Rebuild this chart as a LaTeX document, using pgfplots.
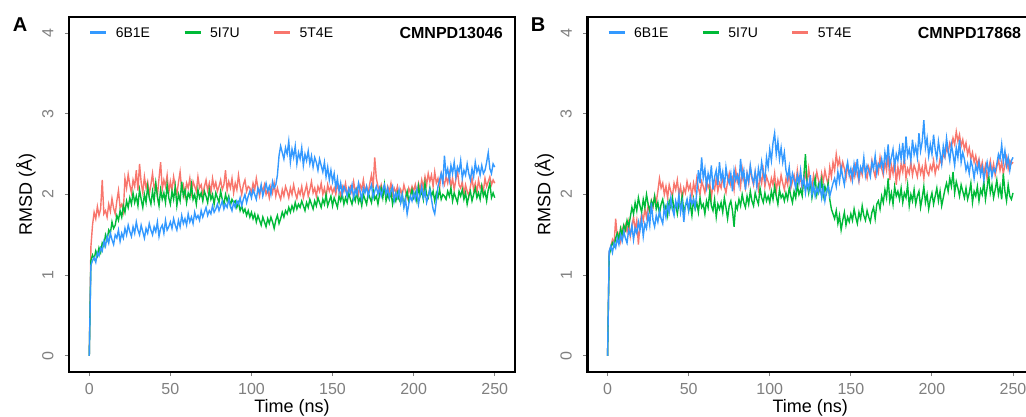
\documentclass[border=0pt]{standalone}
\usepackage{pgfplots}
\pgfplotsset{compat=1.18}
\usepackage{pgfplotstable}
\usepackage{fontspec}
\setmainfont{Liberation Sans}
\definecolor{cblue}{HTML}{3399FF}
\definecolor{cgreen}{HTML}{00BA38}
\definecolor{cred}{HTML}{F8766D}
\definecolor{tgray}{HTML}{7F7F7F}

\pgfplotstableread{
t b g r
0 0 0 0
1 1.12 1.18 1.35
2 1.18 1.25 1.62
3 1.22 1.20 1.78
4 1.16 1.30 1.70
5 1.28 1.24 1.85
6 1.24 1.34 1.74
7 1.34 1.28 1.82
8 1.30 1.40 2.18
9 1.42 1.36 1.76
10 1.36 1.50 1.80
11 1.48 1.44 1.72
12 1.40 1.56 1.88
13 1.52 1.52 1.79
14 1.44 1.66 1.95
15 1.38 1.58 1.83
16 1.50 1.62 1.76
17 1.46 1.74 1.92
18 1.56 1.68 2.05
19 1.42 1.80 1.84
20 1.52 1.72 1.88
21 1.46 1.86 1.79
22 1.58 1.78 2.20
23 1.50 1.92 2.08
24 1.62 1.84 2.25
25 1.54 1.96 2.12
26 1.48 1.88 2.02
27 1.60 2.02 2.18
28 1.52 1.90 2.10
29 1.66 1.98 2.30
30 1.56 1.86 2.05
31 1.50 2.06 2.38
32 1.62 1.94 2.15
33 1.54 1.84 2.02
34 1.46 2.00 2.22
35 1.58 1.90 2.08
36 1.52 2.10 2.16
37 1.64 1.96 2.00
38 1.56 1.88 2.12
39 1.50 2.04 2.26
40 1.60 1.92 2.08
41 1.54 2.14 2.14
42 1.66 1.98 1.98
43 1.48 1.86 2.20
44 1.58 2.06 2.40
45 1.62 1.94 2.06
46 1.52 2.02 2.18
47 1.68 1.90 2.10
48 1.56 2.12 2.24
49 1.60 1.96 2.02
50 1.66 1.88 2.16
51 1.58 2.04 2.05
52 1.70 1.94 2.22
53 1.62 2.10 2.10
54 1.56 1.86 2.00
55 1.68 2.00 2.15
56 1.60 1.92 2.28
57 1.74 2.16 2.06
58 1.64 1.98 2.12
59 1.70 2.06 1.98
60 1.62 1.90 2.14
61 1.76 2.02 2.08
62 1.66 1.96 2.20
63 1.72 2.12 2.02
64 1.64 1.94 2.16
65 1.78 2.00 2.10
66 1.70 1.88 2.04
67 1.74 2.06 2.22
68 1.68 1.96 2.08
69 1.80 2.02 2.12
70 1.72 1.92 2.00
71 1.78 2.04 2.10
72 1.84 1.98 2.18
73 1.74 1.90 2.05
74 1.80 2.06 2.14
75 1.76 1.94 2.02
76 1.86 2.00 2.20
77 1.78 1.88 2.08
78 1.82 2.02 2.15
79 1.88 1.96 2.04
80 1.80 1.90 2.10
81 1.86 2.04 2.18
82 1.92 1.94 2.06
83 1.82 1.88 2.12
84 1.88 2.00 2.30
85 1.84 1.92 2.05
86 1.94 1.98 2.16
87 1.86 1.86 2.08
88 1.80 1.94 2.20
89 1.90 1.90 2.02
90 1.84 1.92 2.14
91 1.92 1.84 2.06
92 1.88 1.90 2.24
93 1.96 1.80 2.10
94 1.86 1.86 2.00
95 1.94 1.78 2.12
96 2.00 1.82 2.18
97 1.90 1.74 2.04
98 1.98 1.80 2.10
99 2.04 1.72 2.08
100 1.96 1.78 2.02
101 2.06 1.70 2.14
102 2.00 1.76 2.06
103 1.94 1.66 2.20
104 2.08 1.74 2.08
105 2.02 1.68 1.98
106 2.12 1.62 2.10
107 1.98 1.72 2.04
108 2.06 1.66 2.12
109 2.14 1.60 2.00
110 2.04 1.70 2.06
111 2.10 1.64 1.96
112 2.00 1.72 2.10
113 2.16 1.66 2.02
114 2.08 1.58 2.14
115 2.12 1.68 1.98
116 2.24 1.74 2.08
117 2.48 1.64 2.00
118 2.60 1.70 1.94
119 2.52 1.78 2.06
120 2.44 1.72 1.98
121 2.58 1.80 2.10
122 2.50 1.76 2.04
123 2.66 1.84 1.96
124 2.40 1.78 2.08
125 2.56 1.86 2.00
126 2.46 1.80 2.12
127 2.60 1.90 2.02
128 2.38 1.82 1.95
129 2.52 1.88 2.06
130 2.44 1.84 2.00
131 2.58 1.92 2.10
132 2.36 1.86 1.96
133 2.50 1.80 2.04
134 2.42 1.90 2.12
135 2.54 1.84 1.98
136 2.38 1.94 2.06
137 2.48 1.88 2.16
138 2.34 1.82 2.02
139 2.46 1.92 2.08
140 2.40 1.86 1.98
141 2.30 1.96 2.10
142 2.44 1.90 2.04
143 2.36 1.84 2.14
144 2.28 1.94 2.00
145 2.40 1.88 2.08
146 2.22 2.00 1.96
147 2.34 1.86 2.12
148 2.18 1.92 2.04
149 2.30 1.98 2.10
150 2.16 1.86 2.02
151 2.26 1.96 2.08
152 2.08 1.90 2.00
153 2.20 1.84 2.12
154 2.04 1.98 2.06
155 2.14 1.92 1.98
156 2.00 2.00 2.10
157 2.10 1.88 2.04
158 2.06 1.96 2.14
159 1.98 1.90 2.00
160 2.08 2.02 2.06
161 2.02 1.94 2.10
162 2.12 1.88 2.02
163 1.96 1.98 2.16
164 2.06 1.92 2.04
165 2.00 2.04 2.08
166 2.14 1.90 2.00
167 2.04 1.96 2.12
168 1.94 1.86 2.06
169 2.08 2.00 2.18
170 2.02 1.94 2.04
171 2.10 1.88 2.10
172 1.98 2.02 2.02
173 2.06 1.96 2.14
174 2.12 1.90 2.24
175 1.96 2.06 2.08
176 2.04 1.94 2.46
177 2.10 1.98 2.20
178 2.00 1.88 2.10
179 2.08 2.00 2.04
180 1.98 2.08 2.12
181 2.06 1.96 2.02
182 2.12 2.12 2.08
183 2.00 1.92 1.98
184 2.08 2.00 2.10
185 1.96 1.94 2.04
186 2.04 2.04 2.14
187 2.10 1.88 2.00
188 1.92 1.98 2.08
189 2.02 1.92 2.02
190 1.96 2.02 2.10
191 2.06 1.94 1.98
192 1.90 1.90 2.06
193 2.00 2.00 2.00
194 1.84 1.86 2.12
195 1.94 1.96 2.04
196 1.76 2.04 1.96
197 1.88 1.92 2.08
198 1.98 1.98 2.02
199 1.92 2.06 2.10
200 2.02 1.96 2.04
201 1.94 2.02 2.12
202 2.06 1.92 2.00
203 1.88 2.10 2.14
204 2.00 1.98 2.06
205 2.10 2.04 2.18
206 1.96 1.94 2.08
207 2.04 2.14 2.22
208 1.90 2.00 2.12
209 1.98 1.96 2.26
210 2.06 2.08 2.16
211 1.94 1.98 2.24
212 1.82 2.04 2.10
213 1.76 1.92 2.28
214 1.92 2.02 2.14
215 2.10 1.96 2.20
216 2.18 2.06 2.08
217 2.26 1.94 2.26
218 2.14 2.00 2.18
219 2.48 1.98 2.12
220 2.24 1.94 2.22
221 2.32 2.04 2.14
222 2.18 1.98 2.26
223 2.36 2.08 2.10
224 2.26 1.92 2.20
225 2.40 2.02 2.06
226 2.22 1.96 2.18
227 2.34 1.90 2.30
228 2.28 2.04 2.12
229 2.42 1.98 2.08
230 2.20 2.06 2.16
231 2.30 1.94 2.00
232 2.24 2.02 2.12
233 2.38 1.88 2.04
234 2.26 1.98 1.98
235 2.18 2.04 2.10
236 2.32 1.92 2.20
237 2.22 2.00 2.06
238 2.40 2.08 2.14
239 2.28 1.96 2.02
240 2.34 2.02 2.18
241 2.24 1.94 2.08
242 2.36 2.10 2.12
243 2.26 1.98 2.04
244 2.30 2.04 2.20
245 2.40 1.92 2.10
246 2.52 2.06 2.16
247 2.32 2.14 2.22
248 2.26 1.96 2.12
249 2.38 2.02 2.18
250 2.34 1.96 2.14
}\dataA

\pgfplotstableread{
t b g r
0 0 0 0
1 1.30 1.24 1.28
2 1.36 1.34 1.36
3 1.28 1.40 1.44
4 1.40 1.36 1.38
5 1.34 1.46 1.70
6 1.46 1.52 1.46
7 1.38 1.44 1.52
8 1.50 1.58 1.42
9 1.42 1.50 1.58
10 1.54 1.62 1.50
11 1.46 1.56 1.62
12 1.40 1.68 1.54
13 1.56 1.60 1.66
14 1.50 1.72 1.48
15 1.62 1.84 1.60
16 1.44 1.76 1.72
17 1.58 1.90 1.56
18 1.52 1.80 1.68
19 1.66 1.96 1.38
20 1.56 1.86 1.64
21 1.70 1.78 1.76
22 1.48 1.94 1.68
23 1.64 1.84 1.82
24 1.58 2.00 1.72
25 1.76 1.88 1.86
26 1.62 1.80 1.78
27 1.90 1.92 1.92
28 1.68 1.86 1.84
29 1.60 1.98 1.98
30 1.74 1.82 1.90
31 1.66 1.90 2.04
32 1.80 1.76 2.20
33 1.70 1.88 2.08
34 1.64 1.94 2.14
35 1.84 1.80 2.00
36 1.72 1.86 2.10
37 1.88 1.74 1.96
38 1.78 1.92 2.12
39 1.96 1.84 2.04
40 1.82 1.96 1.98
41 1.74 1.82 2.14
42 1.92 1.88 2.06
43 1.84 1.76 2.18
44 2.00 1.90 2.00
45 1.78 1.84 2.10
46 1.90 1.98 1.94
47 1.66 1.78 2.08
48 1.86 1.86 2.02
49 1.94 1.92 2.16
50 1.80 1.80 2.06
51 1.98 1.88 2.12
52 1.88 1.74 1.98
53 1.94 1.94 2.14
54 1.84 1.82 2.04
55 2.02 1.90 2.20
56 2.30 1.78 2.08
57 2.14 1.96 2.00
58 2.46 1.84 2.16
59 2.20 1.88 2.10
60 2.32 1.76 2.02
61 2.10 1.92 2.18
62 2.26 1.84 2.08
63 2.16 2.04 2.14
64 2.36 1.86 1.96
65 2.06 1.80 2.12
66 2.22 1.94 2.06
67 2.30 1.72 2.20
68 2.12 1.88 2.04
69 2.40 1.82 2.14
70 2.18 1.90 2.08
71 2.28 1.78 2.22
72 2.08 1.96 2.10
73 2.34 1.84 2.02
74 2.20 1.70 2.16
75 2.14 1.86 2.26
76 2.26 1.92 2.12
77 2.04 1.80 2.20
78 2.30 1.60 2.06
79 2.18 1.88 2.30
80 2.24 1.82 2.16
81 2.12 1.94 2.24
82 2.44 1.86 2.10
83 2.20 2.00 2.32
84 2.30 1.90 2.18
85 2.06 1.84 2.08
86 2.26 1.98 2.26
87 2.16 1.88 2.14
88 2.36 2.04 2.34
89 2.22 1.92 2.20
90 2.14 1.86 2.12
91 2.28 2.02 2.28
92 2.10 1.94 2.18
93 2.32 1.88 2.06
94 2.20 2.08 2.24
95 2.40 1.96 2.14
96 2.26 1.90 2.30
97 2.18 2.02 2.10
98 2.46 1.92 2.22
99 2.34 1.98 2.16
100 2.56 1.90 2.08
101 2.42 2.04 2.20
102 2.64 1.94 2.12
103 2.76 2.10 2.26
104 2.50 1.98 2.04
105 2.66 1.88 2.18
106 2.44 2.06 2.10
107 2.58 1.96 2.24
108 2.40 2.00 2.14
109 2.52 1.92 2.06
110 2.30 2.02 2.20
111 2.20 1.94 2.12
112 2.34 2.08 2.28
113 2.12 1.98 2.08
114 2.26 1.90 2.16
115 2.18 2.04 2.24
116 2.08 1.96 2.10
117 2.24 2.12 2.30
118 2.14 2.00 2.14
119 2.30 2.06 2.22
120 2.10 1.98 2.06
121 2.20 2.22 2.18
122 2.02 2.50 2.26
123 2.16 2.14 2.12
124 2.06 2.02 2.32
125 2.24 2.16 2.16
126 2.00 1.96 2.08
127 2.12 2.08 2.24
128 1.98 2.20 2.14
129 2.08 2.00 2.28
130 2.02 2.12 2.18
131 2.14 2.04 2.10
132 1.96 2.18 2.26
133 2.08 1.98 2.16
134 1.92 2.10 2.30
135 2.04 2.02 2.20
136 2.10 2.14 2.12
137 1.98 1.94 2.34
138 2.06 1.82 2.22
139 2.14 1.76 2.40
140 2.20 1.70 2.30
141 2.10 1.80 2.50
142 2.28 1.64 2.36
143 2.16 1.74 2.44
144 2.34 1.56 2.28
145 2.22 1.68 2.40
146 2.12 1.78 2.32
147 2.30 1.62 2.20
148 2.40 1.72 2.36
149 2.24 1.66 2.26
150 2.32 1.76 2.18
151 2.18 1.68 2.30
152 2.38 1.82 2.22
153 2.26 1.72 2.36
154 2.44 1.64 2.26
155 2.20 1.78 2.16
156 2.34 1.70 2.32
157 2.28 1.86 2.24
158 2.46 1.74 2.40
159 2.24 1.68 2.28
160 2.36 1.80 2.20
161 2.30 1.72 2.34
162 2.22 1.66 2.26
163 2.40 1.78 2.42
164 2.32 1.84 2.30
165 2.48 1.70 2.22
166 2.26 1.88 2.38
167 2.38 1.92 2.28
168 2.34 1.82 2.46
169 2.44 1.98 2.32
170 2.30 1.90 2.24
171 2.52 2.06 2.40
172 2.40 1.96 2.30
173 2.62 2.20 2.50
174 2.36 1.92 2.18
175 2.46 2.02 2.36
176 2.56 1.88 2.26
177 2.34 2.10 2.44
178 2.50 1.98 2.12
179 2.42 2.04 2.34
180 2.58 1.94 2.22
181 2.44 2.08 2.38
182 2.64 1.90 2.28
183 2.38 2.02 2.46
184 2.72 1.96 2.20
185 2.48 2.12 2.32
186 2.56 1.86 2.26
187 2.42 2.00 2.40
188 2.68 1.92 2.24
189 2.50 2.06 2.36
190 2.60 1.88 2.30
191 2.46 1.98 2.22
192 2.76 2.04 2.38
193 2.54 1.84 2.26
194 2.66 1.96 2.34
195 2.92 2.10 2.20
196 2.58 1.90 2.40
197 2.70 2.00 2.28
198 2.48 1.82 2.24
199 2.62 1.94 2.36
200 2.50 2.02 2.30
201 2.74 1.88 2.42
202 2.56 1.98 2.26
203 2.44 2.08 2.36
204 2.66 1.92 2.32
205 2.52 2.04 2.44
206 2.38 1.86 2.38
207 2.60 1.96 2.50
208 2.48 2.06 2.46
209 2.70 2.14 2.58
210 2.54 2.04 2.52
211 2.42 2.20 2.64
212 2.62 2.10 2.58
213 2.50 2.28 2.70
214 2.36 2.02 2.62
215 2.58 2.16 2.78
216 2.46 2.08 2.66
217 2.68 1.98 2.74
218 2.40 2.12 2.60
219 2.52 2.04 2.68
220 2.44 1.96 2.56
221 2.30 2.08 2.64
222 2.38 1.94 2.50
223 2.26 2.02 2.58
224 2.42 2.14 2.44
225 2.34 1.90 2.52
226 2.20 2.04 2.40
227 2.36 1.98 2.48
228 2.28 2.10 2.36
229 2.40 1.92 2.44
230 2.24 2.06 2.30
231 2.34 2.00 2.40
232 2.18 2.16 2.26
233 2.30 1.94 2.36
234 2.40 2.08 2.20
235 2.26 2.24 2.32
236 2.36 2.02 2.42
237 2.22 2.12 2.28
238 2.32 1.96 2.38
239 2.28 2.06 2.24
240 2.38 2.18 2.34
241 2.50 2.00 2.44
242 2.44 2.10 2.30
243 2.62 1.94 2.40
244 2.40 2.26 2.26
245 2.54 2.04 2.36
246 2.36 1.92 2.46
247 2.46 2.12 2.32
248 2.30 1.98 2.42
249 2.42 1.94 2.38
250 2.46 2.02 2.40
}\dataB

\pgfplotsset{
  rmsd/.style={
    scale only axis, width=446pt, height=355pt,
    xmin=-12.5, xmax=262.5, ymin=-0.2, ymax=4.2,
    xtick={0,50,100,150,200,250}, ytick={0,1,2,3,4},
    axis line style={line width=2.5pt, black},
    xtick pos=bottom, ytick pos=left,
    tick align=outside, major tick length=4pt,
    tick style={tgray, line width=1pt},
    /pgf/number format/assume math mode=true,
    ticklabel style={text=tgray, font=\fontsize{16}{16}\selectfont},
    yticklabel style={rotate=90, anchor=south},
    yticklabel shift=8pt,
    xticklabel shift=4pt,
    xlabel={Time (ns)}, ylabel={RMSD (Å)},
    label style={font=\fontsize{18}{18}\selectfont},
    xlabel style={at={(axis description cs:0.5,-0.1146)}, anchor=base},
    ylabel style={at={(axis description cs:-0.083,0.5)}, anchor=base},
    legend columns=3,
    legend cell align=left,
    legend style={draw=none, fill=none, inner sep=0pt,
      at={(axis description cs:0.044,0.955)}, anchor=west,
      font=\fontsize{14}{14}\selectfont,
      /tikz/every odd column/.append style={column sep=6pt},
      /tikz/every even column/.append style={column sep=31pt}},
    legend image code/.code={\draw[line width=3pt] (0pt,0pt) -- (16pt,0pt);},
    every axis plot/.append style={line width=1.4pt},
  }
}

\begin{document}
\begin{tikzpicture}
\useasboundingbox (0pt,0pt) rectangle (1026pt,416pt);
\begin{axis}[rmsd, at={(69pt,44pt)}, anchor=south west]
\addlegendimage{cblue}\addlegendentry{6B1E}
\addlegendimage{cgreen}\addlegendentry{5I7U}
\addlegendimage{cred}\addlegendentry{5T4E}
\addplot[cred, forget plot] table[x=t, y=r] {\dataA};
\addplot[cgreen, forget plot] table[x=t, y=g] {\dataA};
\addplot[cblue, forget plot] table[x=t, y=b] {\dataA};
\node[anchor=east, inner sep=0pt, font=\bfseries\fontsize{16}{16}\selectfont] at (axis description cs:0.973,0.955) {CMNPD13046};
\end{axis}
\begin{scope}
\clip (0pt,0pt) rectangle (1026pt,416pt);
\begin{axis}[rmsd, at={(587.3pt,44pt)}, anchor=south west]
\addlegendimage{cblue}\addlegendentry{6B1E}
\addlegendimage{cgreen}\addlegendentry{5I7U}
\addlegendimage{cred}\addlegendentry{5T4E}
\addplot[cred, forget plot] table[x=t, y=r] {\dataB};
\addplot[cgreen, forget plot] table[x=t, y=g] {\dataB};
\addplot[cblue, forget plot] table[x=t, y=b] {\dataB};
\node[anchor=east, inner sep=0pt, font=\bfseries\fontsize{16}{16}\selectfont] at (axis description cs:0.973,0.955) {CMNPD17868};
\end{axis}
\end{scope}
\node[font=\bfseries\fontsize{20}{20}\selectfont] at (20pt,391pt) {A};
\node[font=\bfseries\fontsize{20}{20}\selectfont] at (538pt,391pt) {B};
\end{tikzpicture}
\end{document}
